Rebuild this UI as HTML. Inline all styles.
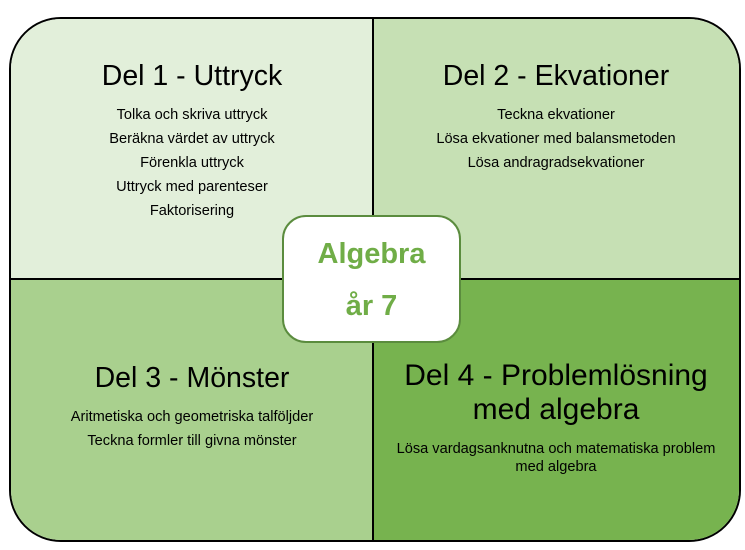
<!DOCTYPE html>
<html><head><meta charset="utf-8"><style>
body{margin:0;width:745px;height:550px;background:#fff;font-family:"Liberation Sans",sans-serif;overflow:hidden}
.outer{position:absolute;left:9px;top:17px;width:728px;height:521px;border:2px solid #000;border-radius:52px;overflow:hidden}
.q{position:absolute;box-sizing:border-box;text-align:center;color:#000}
.h{font-size:28.5px;line-height:34px}
.i{font-size:14.6px;line-height:24px}
.vl{position:absolute;left:361px;top:0;width:2px;height:100%;background:#000}
.hl{position:absolute;top:259px;left:0;width:100%;height:2px;background:#000}
.c{position:absolute;left:282px;top:215px;width:179px;height:128px;background:#fff;border:2px solid #5b8c3e;border-radius:24px;text-align:center;color:#70ad47;font-size:29px;line-height:52px;font-weight:bold;padding-top:11px;box-sizing:border-box}
</style></head><body>
<div class="outer">
<div class="q" style="left:0;top:0;width:362px;height:260px;background:#e2efda;padding-top:40px"><div class="h">Del 1 - Uttryck</div><div style="height:10px"></div><div class="i">Tolka och skriva uttryck<br>Beräkna värdet av uttryck<br>Förenkla uttryck<br>Uttryck med parenteser<br>Faktorisering</div></div>
<div class="q" style="left:362px;top:0;width:366px;height:260px;background:#c6e0b4;padding-top:40px"><div class="h">Del 2 - Ekvationer</div><div style="height:10px"></div><div class="i">Teckna ekvationer<br>Lösa ekvationer med balansmetoden<br>Lösa andragradsekvationer</div></div>
<div class="q" style="left:0;top:260px;width:362px;height:261px;background:#a9d08e;padding-top:82px"><div class="h">Del 3 - Mönster</div><div style="height:10px"></div><div class="i">Aritmetiska och geometriska talföljder<br>Teckna formler till givna mönster</div></div>
<div class="q" style="left:362px;top:260px;width:366px;height:261px;background:#77b34f;padding-top:80px"><div class="h" style="font-size:30px">Del 4 - Problemlösning<br>med algebra</div><div style="height:13px"></div><div class="i" style="line-height:18px">Lösa vardagsanknutna och matematiska problem<br>med algebra</div></div>
<div class="vl"></div><div class="hl"></div>
</div>
<div class="c">Algebra<br>år 7</div>
</body></html>
